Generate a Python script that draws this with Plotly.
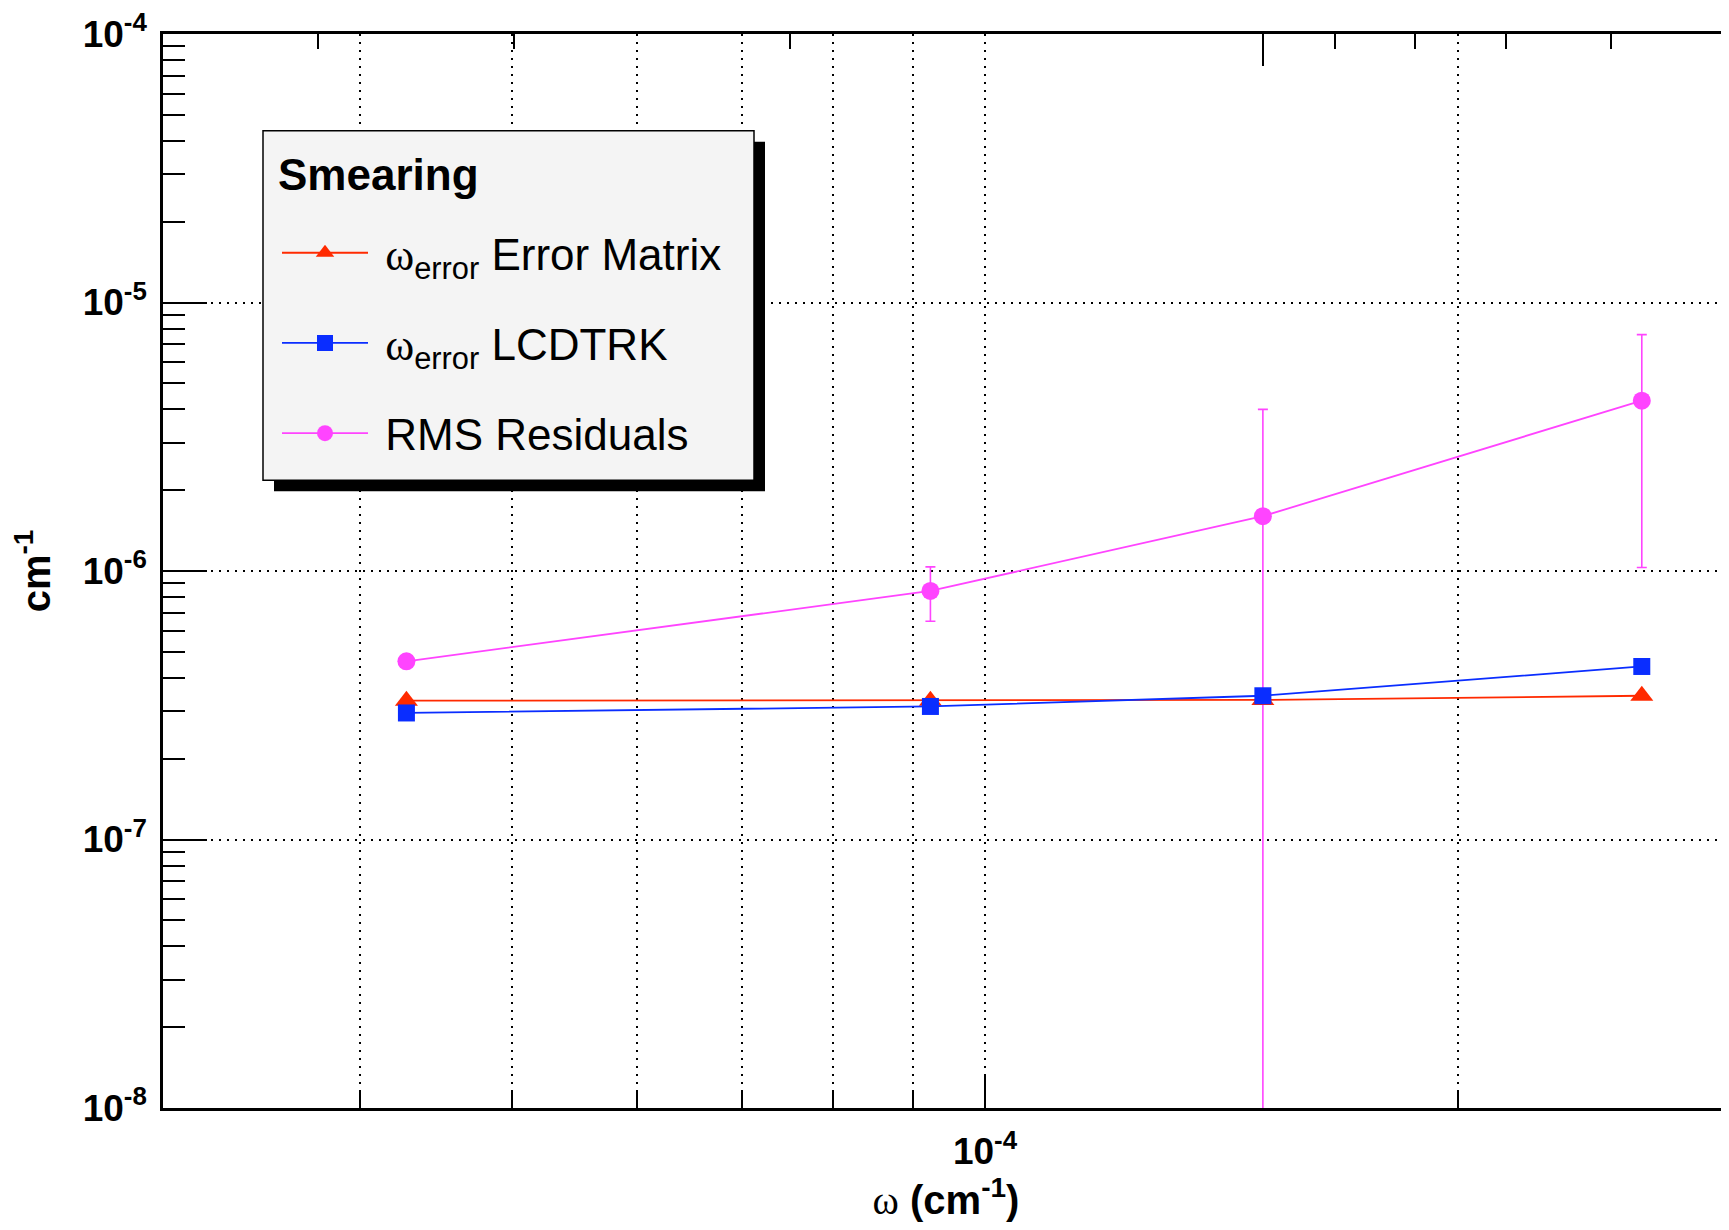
import plotly.graph_objects as go

# ---------------- data ----------------
omega = [4.28e-5, 9.23e-5, 1.503e-4, 2.62e-4]          # x values (cm^-1)
err_matrix = [3.29e-7, 3.29e-7, 3.31e-7, 3.43e-7]      # omega_error Error Matrix
lcdtrk = [2.96e-7, 3.13e-7, 3.43e-7, 4.41e-7]          # omega_error LCDTRK
rms_resid = [4.61e-7, 8.43e-7, 1.60e-6, 4.31e-6]       # RMS Residuals
rms_resid_err = [0.0, 1.93e-7, 2.4e-6, 3.28e-6]        # symmetric errors

OMEGA = "<span style=\"font-family:'Liberation Serif'\">ω</span>"
name_err = "\u00a0" + OMEGA + "<sub>error</sub> Error Matrix"
name_lcd = "\u00a0" + OMEGA + "<sub>error</sub> LCDTRK"
name_rms = "\u00a0RMS Residuals"
legend_title = "Smearing"

y_tick_vals = [1e-8, 1e-7, 1e-6, 1e-5, 1e-4]
y_tick_text = ["<b>10<sup>-8</sup></b>", "<b>10<sup>-7</sup></b>", "<b>10<sup>-6</sup></b>",
               "<b>10<sup>-5</sup></b>", "<b>10<sup>-4</sup></b>"]
y_minor_vals = [m * 10.0 ** e for e in (-8, -7, -6, -5) for m in range(2, 10)]
x_major_vals = [1e-4]
x_major_text = ["<b>10<sup>-4</sup></b>"]
x_minor_vals = [4e-5, 5e-5, 6e-5, 7e-5, 8e-5, 9e-5, 2e-4]
top_minor_vals = [6e-5, 7e-5, 8e-5, 9e-5, 2e-4, 3e-4, 4e-4]

RED = "#ff2a00"
BLUE = "#0a2dff"
MAG = "#ff44ff"

# ---------------- geometry ----------------
BODY = 8                      # default page margin around the plot div
W, H = 1729 - BODY, 1230 - BODY
L0, T0 = 163, 32              # plot-area corner on screen
PW, PH = 1729 - L0, 1076
L, T = L0 - BODY, T0 - BODY
B = H - T - PH


def px(x):
    return (x - L0) / PW


def py(y):
    return 1 - (y - T0) / PH


NARROW = "Liberation Sans Narrow, Liberation Sans, Arial"
SANS = "Liberation Sans, Arial"

fig = go.Figure()

fig.add_trace(go.Scatter(
    x=omega, y=rms_resid, name=name_rms, mode="lines+markers",
    line=dict(color=MAG, width=1.8),
    marker=dict(symbol="circle", size=18, color=MAG),
    error_y=dict(type="data", array=rms_resid_err, symmetric=True,
                 color=MAG, thickness=1.6, width=5),
    legendrank=3, legendgroup="c",
))
fig.add_trace(go.Scatter(
    x=omega, y=err_matrix, name=name_err, mode="lines+markers",
    line=dict(color=RED, width=1.8),
    marker=dict(symbol="triangle-up", size=20, color=RED),
    legendrank=1, legendgroup="a",
))
fig.add_trace(go.Scatter(
    x=omega, y=lcdtrk, name=name_lcd, mode="lines+markers",
    line=dict(color=BLUE, width=1.8),
    marker=dict(symbol="square", size=17, color=BLUE),
    legendrank=2, legendgroup="b",
))
# empty trace so that the mirrored top axis (xaxis2) is drawn
fig.add_trace(go.Scatter(x=[], y=[], xaxis="x2", yaxis="y", mode="markers",
                         showlegend=False, hoverinfo="skip"))

grid_dash = "2px,6px"

fig.update_layout(
    width=W, height=H,
    margin=dict(l=L, r=0, t=T, b=B, pad=0),
    paper_bgcolor="white", plot_bgcolor="white",
    font=dict(family=SANS, color="black"),
    showlegend=True,
    legend=dict(
        x=px(277), y=py(216), xanchor="left", yanchor="top",
        bgcolor="rgba(0,0,0,0)", borderwidth=0,
        font=dict(family=SANS, size=44, color="black"),
        traceorder="grouped", tracegroupgap=30, itemwidth=86,
    ),
    xaxis=dict(
        type="log", range=[-4.5236, -4.5236 + PW / 1570.0],
        tickmode="array", tickvals=x_major_vals, ticktext=x_major_text,
        ticks="inside", ticklen=34, tickwidth=2, tickcolor="black",
        tickfont=dict(family=NARROW, size=37, color="black"),
        ticklabelstandoff=9,
        showgrid=True, gridcolor="black", gridwidth=2, griddash=grid_dash,
        minor=dict(tickmode="array", tickvals=x_minor_vals, ticks="inside", ticklen=18,
                   tickwidth=2, tickcolor="black", showgrid=True, gridcolor="black",
                   gridwidth=2, griddash=grid_dash),
        showline=True, linewidth=2.5, linecolor="black", mirror=False,
        zeroline=False,
        title=dict(text="<span style=\"font-family:'Liberation Serif';font-weight:normal\">ω</span> <b>(cm<sup>-1</sup>)</b>",
                   font=dict(family=NARROW, size=40, color="black"), standoff=2),
    ),
    xaxis2=dict(
        type="log", overlaying="x", side="top", anchor="y",
        range=[-3.2994, -3.2994 - PW / 1570.0],
        tickmode="array", tickvals=[1e-4],
        ticks="inside", ticklen=32, tickwidth=2, tickcolor="black",
        showticklabels=False, showgrid=False,
        minor=dict(tickmode="array", tickvals=top_minor_vals, ticks="inside", ticklen=15,
                   tickwidth=2, tickcolor="black", showgrid=False),
        showline=True, linewidth=2.5, linecolor="black", zeroline=False,
    ),
    yaxis=dict(
        type="log", range=[-8, -4],
        tickmode="array", tickvals=y_tick_vals, ticktext=y_tick_text,
        ticks="inside", ticklen=44, tickwidth=2, tickcolor="black",
        tickfont=dict(family=NARROW, size=37, color="black"),
        ticklabelstandoff=6, ticklabeloverflow="allow",
        showgrid=True, gridcolor="black", gridwidth=2, griddash=grid_dash,
        minor=dict(tickmode="array", tickvals=y_minor_vals, ticks="inside", ticklen=22,
                   tickwidth=2, tickcolor="black", showgrid=False),
        showline=True, linewidth=2.5, linecolor="black", mirror=False,
        zeroline=False,
        title=dict(text="<b>cm<sup>-1</sup></b>",
                   font=dict(family=NARROW, size=40, color="black"), standoff=23),
    ),
)

# legend frame with shadow (decoration)
fig.add_shape(type="rect", xref="paper", yref="paper",
              x0=px(274), x1=px(765), y0=py(490), y1=py(140),
              fillcolor="black", line=dict(width=0), layer="above")
fig.add_shape(type="rect", xref="paper", yref="paper",
              x0=px(263), x1=px(754), y0=py(479), y1=py(129),
              fillcolor="#f4f4f4", line=dict(color="black", width=1.5), layer="above")
fig.add_annotation(text="<b>" + legend_title + "</b>", xref="paper", yref="paper",
                   x=px(276), y=py(173), xanchor="left", yanchor="middle",
                   showarrow=False, font=dict(family=SANS, size=44, color="black"))

fig.write_html("out.html", config={"displayModeBar": False})
